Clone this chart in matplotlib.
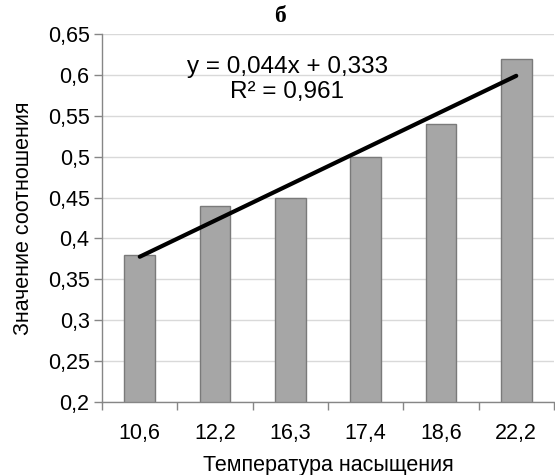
import numpy as np
import matplotlib
matplotlib.use("Agg")
import matplotlib.pyplot as plt

plt.rcParams['font.family'] = ['Liberation Sans', 'DejaVu Sans']

temps = ["10,6", "12,2", "16,3", "17,4", "18,6", "22,2"]
ratio = [0.38, 0.44, 0.45, 0.50, 0.54, 0.62]
yticks = [0.2, 0.25, 0.3, 0.35, 0.4, 0.45, 0.5, 0.55, 0.6, 0.65]
ytick_labels = ["0,2", "0,25", "0,3", "0,35", "0,4", "0,45", "0,5", "0,55", "0,6", "0,65"]
eq_text = "y = 0,044x + 0,333"
r2_text = "R² = 0,961"

fig = plt.figure(figsize=(5.55, 4.75), dpi=100)
ax = fig.add_axes([0.184, 0.154, 0.814, 0.774])

x = np.arange(1, len(temps) + 1)
ax.bar(x, ratio, width=0.41, color="#a6a6a6", edgecolor="#7a7a7a", linewidth=1, zorder=2)

# linear trend over category index
k, b = np.polyfit(x, ratio, 1)
xs = np.array([x[0], x[-1]])
ax.plot(xs, k * xs + b, color="black", linewidth=3, solid_capstyle="round", zorder=3)
ax.text(0.41, 0.91, eq_text, transform=ax.transAxes, ha="center", va="center", fontsize=17.5)
ax.text(0.41, 0.842, r2_text, transform=ax.transAxes, ha="center", va="center", fontsize=17.5)

ax.set_xlim(0.5, len(temps) + 0.5)
ax.set_ylim(0.2, 0.65)
ax.set_yticks(yticks)
ax.set_yticklabels(ytick_labels, fontsize=15.5)
ax.set_xticks(x)
ax.set_xticklabels(temps, fontsize=15.5)
ax.set_xticks(np.arange(0.5, len(temps) + 1), minor=True)
ax.tick_params(axis="x", which="major", length=0, pad=15)
ax.tick_params(axis="x", which="minor", length=6, color="#868686", width=1)
ax.tick_params(axis="y", length=6, color="#868686", width=1, pad=3)

ax.grid(axis="y", color="#d9d9d9", linewidth=1, zorder=0)
ax.set_axisbelow(True)
for s in ["top", "right"]:
    ax.spines[s].set_visible(False)
for s in ["left", "bottom"]:
    ax.spines[s].set_color("#868686")
    ax.spines[s].set_linewidth(1)

ax.set_xlabel("Температура насыщения", fontsize=15.5, labelpad=8)
ax.set_ylabel("Значение соотношения", fontsize=15.5, labelpad=10)
fig.text(0.505, 0.965, "б", ha="center", va="center", fontsize=17,
         fontweight="bold", family=["Liberation Serif", "DejaVu Serif"])

fig.savefig("out.png", dpi=100)
